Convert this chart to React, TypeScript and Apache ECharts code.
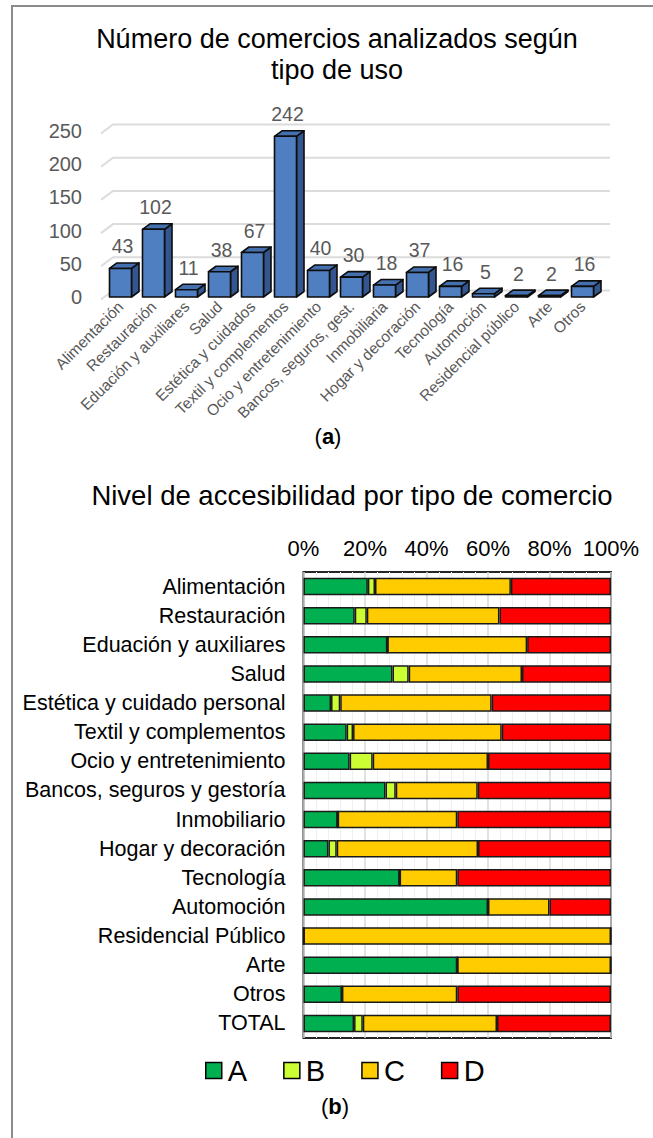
import React, { useEffect, useRef } from "react";
import * as echarts from "echarts";

// ---- Chart (a): number of shops by use type ----
const useCategories = [
  "Alimentación",
  "Restauración",
  "Eduación y auxiliares",
  "Salud",
  "Estética y cuidados",
  "Textil y complementos",
  "Ocio y entretenimiento",
  "Bancos, seguros, gest.",
  "Inmobiliaria",
  "Hogar y decoración",
  "Tecnología",
  "Automoción",
  "Residencial público",
  "Arte",
  "Otros",
];
const useCounts = [43, 102, 11, 38, 67, 242, 40, 30, 18, 37, 16, 5, 2, 2, 16];
const countTicks = [0, 50, 100, 150, 200, 250];

// ---- Chart (b): accessibility level by shop type (counts per level) ----
const accCategories = [
  "Alimentación",
  "Restauración",
  "Eduación y auxiliares",
  "Salud",
  "Estética y cuidado personal",
  "Textil y complementos",
  "Ocio y entretenimiento",
  "Bancos, seguros y gestoría",
  "Inmobiliario",
  "Hogar y decoración",
  "Tecnología",
  "Automoción",
  "Residencial Público",
  "Arte",
  "Otros",
  "TOTAL",
];
const levelA = [9, 17, 3, 11, 6, 34, 6, 8, 2, 3, 5, 3, 0, 1, 2, 110];
const levelB = [1, 4, 0, 2, 2, 5, 3, 1, 0, 1, 0, 0, 0, 0, 0, 19];
const levelC = [19, 44, 5, 14, 33, 117, 15, 8, 7, 17, 3, 1, 2, 1, 6, 292];
const levelD = [14, 37, 3, 11, 26, 86, 16, 13, 9, 16, 8, 1, 0, 0, 8, 248];
const levelNames = ["A", "B", "C", "D"];
const levelColors = ["#00b050", "#ccff33", "#ffcc00", "#ff0000"];

const FONT = "'Liberation Sans', Arial, sans-serif";

export default function App() {
  const ref = useRef<HTMLDivElement>(null);

  useEffect(() => {
    if (!ref.current) return;
    const chart = echarts.init(ref.current, null, { renderer: "svg" });

    const levels = [levelA, levelB, levelC, levelD];
    const totals = accCategories.map((_, i) =>
      levels.reduce((s, arr) => s + arr[i], 0)
    );
    const pct = (arr: number[]) => arr.map((v, i) => (v / totals[i]) * 100);

    const DX = 7.5;
    const DY = -5.5;

    const option: any = {
      animation: false,
      backgroundColor: "#ffffff",
      textStyle: { fontFamily: FONT },
      graphic: [
        {
          type: "rect",
          shape: { x: 12, y: 6, width: 800, height: 1300 },
          style: { fill: "none", stroke: "#8c8c8c", lineWidth: 2 },
          silent: true,
          z: 0,
        },
        {
          type: "text",
          x: 337,
          y: 23,
          style: {
            text: "Número de comercios analizados según\ntipo de uso",
            align: "center",
            verticalAlign: "top",
            fontFamily: FONT,
            fontSize: 27,
            lineHeight: 31,
            fill: "#000",
          },
        },
        {
          type: "text",
          x: 352,
          y: 481,
          style: {
            text: "Nivel de accesibilidad por tipo de comercio",
            align: "center",
            verticalAlign: "top",
            fontFamily: FONT,
            fontSize: 27.5,
            fill: "#000",
          },
        },
        {
          type: "text",
          x: 328,
          y: 425,
          style: {
            text: "({b|a})",
            align: "center",
            verticalAlign: "top",
            fontFamily: FONT,
            fontSize: 22,
            fill: "#000",
            rich: { b: { fontWeight: "bold", fontSize: 22, fontFamily: FONT } },
          },
        },
        {
          type: "text",
          x: 335,
          y: 1095,
          style: {
            text: "({b|b})",
            align: "center",
            verticalAlign: "top",
            fontFamily: FONT,
            fontSize: 22,
            fill: "#000",
            rich: { b: { fontWeight: "bold", fontSize: 22, fontFamily: FONT } },
          },
        },
      ],
      legend: {
        data: levelNames,
        left: 200,
        top: 1051,
        icon: "rect",
        itemWidth: 16,
        itemHeight: 16,
        itemGap: 36,
        itemStyle: { borderColor: "#000", borderWidth: 1.5 },
        textStyle: { fontFamily: FONT, fontSize: 29, color: "#000", padding: [0, 0, 0, 1] },
      },
      grid: [
        { left: 104, right: 54, top: 131, height: 166, containLabel: false },
        {
          left: 303.5,
          right: 42,
          top: 572,
          height: 466,
          show: true,
          borderColor: "#262626",
          borderWidth: 2,
          backgroundColor: "#ffffff",
        },
      ],
      xAxis: [
        {
          gridIndex: 0,
          type: "category",
          data: useCategories,
          axisLine: { show: false },
          axisTick: { show: false },
          axisLabel: {
            rotate: 45,
            interval: 0,
            fontSize: 15.5,
            color: "#595959",
            fontFamily: FONT,
            margin: 7,
          },
        },
        {
          gridIndex: 1,
          type: "value",
          position: "top",
          min: 0,
          max: 100,
          interval: 20,
          axisLine: { show: false },
          axisTick: { show: false },
          axisLabel: {
            formatter: "{value}%",
            fontSize: 22,
            color: "#000",
            fontFamily: FONT,
            margin: 13,
          },
          splitLine: { show: true, lineStyle: { color: "#d9d9d9", width: 1.5 } },
          minorTick: { show: false, splitNumber: 5 },
          minorSplitLine: { show: true, lineStyle: { color: "#efefef", width: 1 } },
        },
      ],
      yAxis: [
        {
          gridIndex: 0,
          type: "value",
          min: 0,
          max: 250,
          interval: 50,
          axisLine: { show: false },
          axisTick: { show: false },
          splitLine: { show: false },
          axisLabel: {
            fontSize: 20,
            color: "#595959",
            fontFamily: FONT,
            margin: 22,
            padding: [4, 0, 0, 0],
          },
        },
        {
          gridIndex: 1,
          type: "category",
          inverse: true,
          data: accCategories,
          axisLine: { show: false },
          axisTick: { show: false },
          axisLabel: {
            fontSize: 21.5,
            color: "#000",
            fontFamily: FONT,
            margin: 18,
          },
        },
      ],
      series: [
        {
          type: "custom",
          name: "grid3d",
          xAxisIndex: 0,
          yAxisIndex: 0,
          z: 1,
          silent: true,
          data: countTicks.map((v) => [0, v]),
          renderItem: (params: any, api: any) => {
            const v = api.value(1);
            const c = api.coord([0, v]);
            const band = api.size([1, 0])[0];
            const last = api.coord([useCategories.length - 1, v]);
            const left = c[0] - band / 2;
            const right = last[0] + band / 2 + 11;
            return {
              type: "polyline",
              shape: {
                points: [
                  [left - 3, c[1] + 2.5],
                  [left + 9, c[1] - 6.5],
                  [right, c[1] - 6.5],
                ],
              },
              style: { stroke: "#dcdcdc", lineWidth: 2, fill: "none" },
            };
          },
        },
        {
          type: "custom",
          name: "bars3d",
          xAxisIndex: 0,
          yAxisIndex: 0,
          z: 3,
          data: useCounts.map((v, i) => [i, v]),
          renderItem: (params: any, api: any) => {
            const i = api.value(0);
            const v = api.value(1);
            const top = api.coord([i, v]);
            const base = api.coord([i, 0]);
            const bw = api.size([1, 0])[0] * 0.667;
            const x0 = top[0] - bw / 2;
            const x1 = top[0] + bw / 2;
            const yT = top[1];
            const yB = base[1];
            const stroke = { stroke: "#0d0d0d", lineWidth: 1.6, lineJoin: "round" };
            return {
              type: "group",
              children: [
                {
                  type: "polygon",
                  shape: {
                    points: [
                      [x1, yB],
                      [x1, yT],
                      [x1 + DX, yT + DY],
                      [x1 + DX, yB + DY],
                    ],
                  },
                  style: { fill: "#33568f", ...stroke },
                },
                {
                  type: "polygon",
                  shape: {
                    points: [
                      [x0, yT],
                      [x1, yT],
                      [x1 + DX, yT + DY],
                      [x0 + DX, yT + DY],
                    ],
                  },
                  style: { fill: "#4470b0", ...stroke },
                },
                {
                  type: "rect",
                  shape: { x: x0, y: yT, width: bw, height: yB - yT },
                  style: { fill: "#4f7fc0", ...stroke },
                },
                {
                  type: "text",
                  style: {
                    text: String(v),
                    x: top[0] + 2,
                    y: yT - 22,
                    align: "center",
                    verticalAlign: "middle",
                    fontSize: 19.5,
                    fontFamily: FONT,
                    fill: "#595959",
                  },
                },
              ],
            };
          },
        },
        ...levels.map((arr, k) => ({
          type: "bar",
          name: levelNames[k],
          xAxisIndex: 1,
          yAxisIndex: 1,
          stack: "acc",
          barCategoryGap: "40%",
          data: pct(arr),
          itemStyle: {
            color: levelColors[k],
            borderColor: "#1a1a1a",
            borderWidth: 1.5,
          },
          z: 4,
        })),
      ],
    };

    chart.setOption(option);
    return () => chart.dispose();
  }, []);

  return (
    <div
      ref={ref}
      style={{ position: "absolute", left: 0, top: 0, width: 653, height: 1138 }}
    />
  );
}
